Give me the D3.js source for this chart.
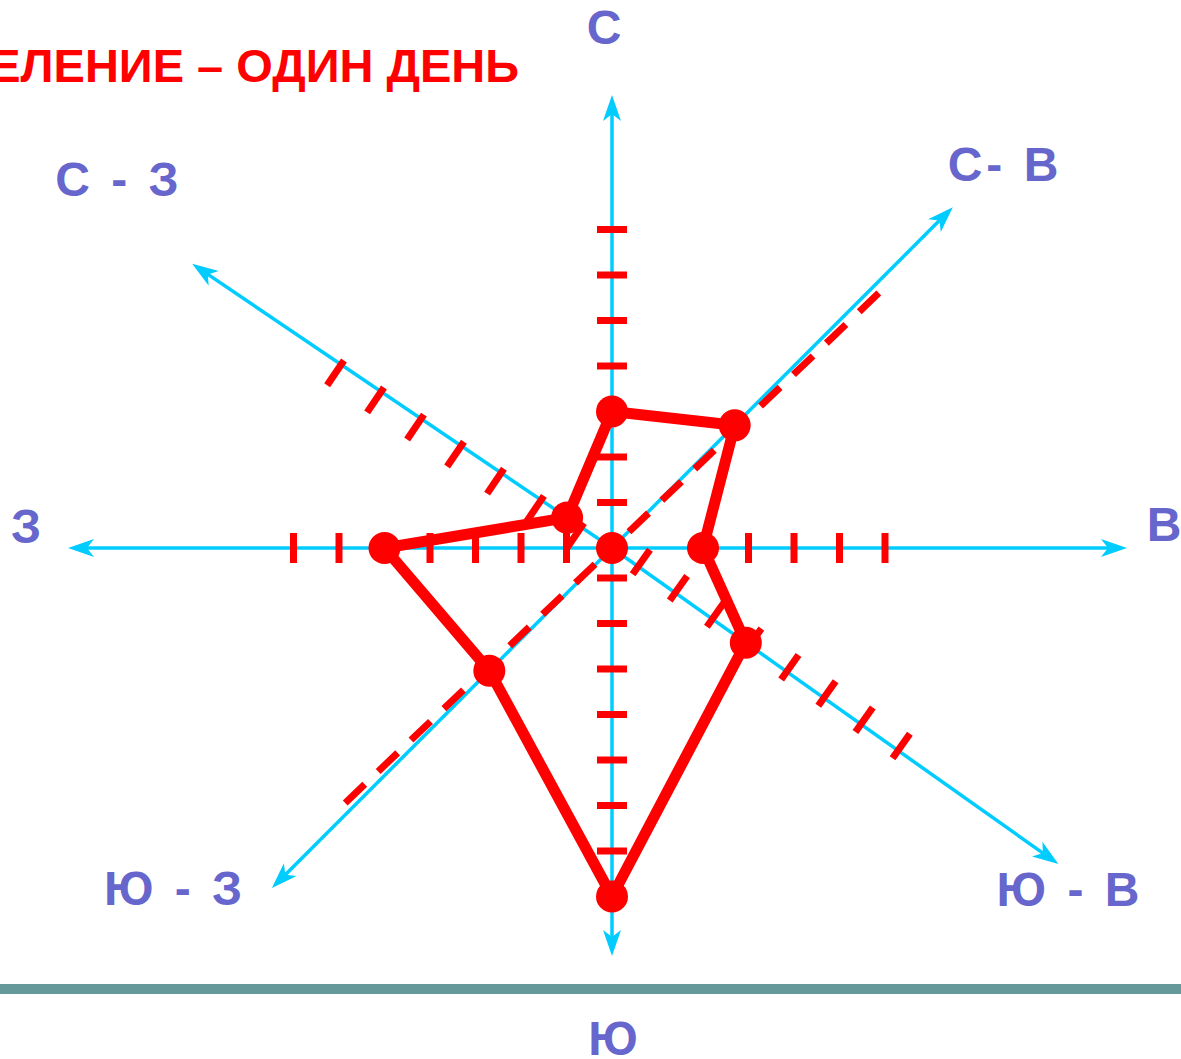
<!DOCTYPE html>
<html>
<head>
<meta charset="utf-8">
<script src="https://cdn.jsdelivr.net/npm/d3@7"></script>
<style>
  body { margin: 0; background: #fff; }
  svg { display: block; }
  text { font-family: "Liberation Sans", Arial, sans-serif; font-weight: bold; }
</style>
</head>
<body>
<svg></svg>
<script>
// rose of winds: one tick = one day
var title = "ДЕЛЕНИЕ – ОДИН ДЕНЬ";
// directions, clockwise from north
var directions = ["С", "С- В", "В", "Ю - В", "Ю", "Ю - З", "З", "С - З"];
// days of wind per direction
var days = [3, 4, 2, 3.9, 8, 4, 5, 1.35];
// which day-ticks are drawn on each ray
var tickDays = [
  [1, 2, 3, 4, 5, 6, 7],
  [1, 2, 3, 4, 5, 6, 7, 8],
  [2, 3, 4, 5, 6],
  [1, 2, 3, 4, 5, 6, 7, 8],
  [1, 2, 3, 4, 5, 6, 7, 8],
  [1, 2, 3, 4, 5, 6, 7, 8],
  [1, 2, 3, 4, 5, 6, 7],
  [1, 2, 3, 4, 5, 6, 7]
];

// drawing layout (hand drawn original, so each ray is a bit different)
var width = 1181, height = 1059;
var cx = 612, cy = 548;
var rays = [
  {angle: 90,     step: 45.5, zero: 0,     len: 453, tick: "cross", shift: 0,   tilt: 0,    label: [604, 44]},
  {angle: 45,     step: 45.5, zero: -8.5,  len: 482, tick: "dash",  shift: 0,   tilt: -1.3, label: [1005, 181]},
  {angle: 0,      step: 45.5, zero: 0,     len: 515, tick: "cross", shift: 0,   tilt: 0,    label: [1164, 541]},
  {angle: -35.3,  step: 45.5, zero: -13.5, len: 547, tick: "cross", shift: 5.5, tilt: 0,    label: [1070, 906]},
  {angle: -90,    step: 45.5, zero: -15.5, len: 408, tick: "cross", shift: 0,   tilt: 0,    label: [613, 1055]},
  {angle: -135,   step: 45.5, zero: -8.5,  len: 481, tick: "dash",  shift: 0,   tilt: -1.3, label: [175, 905]},
  {angle: 180,    step: 45.5, zero: 0,     len: 544, tick: "cross", shift: 0,   tilt: 0,    label: [26, 543]},
  {angle: 145.9,  step: 48.3, zero: -11,   len: 507, tick: "cross", shift: 10,  tilt: 0,    label: [119, 196]}
];

var axisColor = "#00ccff", red = "#ff0000", labelColor = "#6666cc";

// point at distance r along a ray, s to the left of it
function pos(a, r, s) {
  var t = a * Math.PI / 180;
  return [cx + r * Math.cos(t) - s * Math.sin(t), cy - r * Math.sin(t) - s * Math.cos(t)];
}

var svg = d3.select("svg")
  .attr("width", width)
  .attr("height", height);

// title, cut by the left edge like in the slide
svg.append("text")
  .attr("x", 519)
  .attr("y", 82)
  .attr("text-anchor", "end")
  .attr("font-size", 47)
  .attr("fill", red)
  .text(title);

// ground line
svg.append("line")
  .attr("x1", 0).attr("x2", width)
  .attr("y1", 989).attr("y2", 989)
  .attr("stroke", "#669999")
  .attr("stroke-width", 10);

// one scale per ray: days -> distance from the centre
rays.forEach(function(d) {
  d.r = d3.scaleLinear().domain([0, 1]).range([d.zero, d.zero + d.step]);
});

// axes with arrows
var axes = svg.append("g").attr("class", "axes");
rays.forEach(function(d) {
  var end = pos(d.angle, d.len - 19, 0);
  var tip = pos(d.angle, d.len, 0);
  axes.append("line")
    .attr("x1", cx).attr("y1", cy)
    .attr("x2", end[0]).attr("y2", end[1])
    .attr("stroke", axisColor)
    .attr("stroke-width", 3.5);
  axes.append("path")
    .attr("d", "M0,0L-26,-9L-19,0L-26,9Z")
    .attr("fill", axisColor)
    .attr("transform", "translate(" + tip[0] + "," + tip[1] + ") rotate(" + (-d.angle) + ")");
});

// day ticks
var ticks = svg.append("g").attr("class", "ticks");
rays.forEach(function(d, i) {
  tickDays[i].forEach(function(k) {
    var r = d.r(k), p1, p2;
    if (d.tick == "cross") {
      p1 = pos(d.angle, r, d.shift - 15);
      p2 = pos(d.angle, r, d.shift + 15);
    } else {
      p1 = pos(d.angle + d.tilt, r - 13.5, 0);
      p2 = pos(d.angle + d.tilt, r + 13.5, 0);
    }
    ticks.append("line")
      .attr("x1", p1[0]).attr("y1", p1[1])
      .attr("x2", p2[0]).attr("y2", p2[1])
      .attr("stroke", red)
      .attr("stroke-width", 7);
  });
});

// the rose itself
var points = rays.map(function(d, i) {
  return pos(d.angle, d.r(days[i]), 0);
});

var line = d3.line().curve(d3.curveLinearClosed);

svg.append("path")
  .attr("d", line(points))
  .attr("fill", "none")
  .attr("stroke", red)
  .attr("stroke-width", 11)
  .attr("stroke-linejoin", "round");

svg.selectAll("circle.day")
  .data(points.concat([[cx, cy]]))
  .enter().append("circle")
  .attr("class", "day")
  .attr("cx", function(d) { return d[0]; })
  .attr("cy", function(d) { return d[1]; })
  .attr("r", 16)
  .attr("fill", red);

// direction labels
svg.selectAll("text.dir")
  .data(rays)
  .enter().append("text")
  .attr("class", "dir")
  .attr("x", function(d) { return d.label[0]; })
  .attr("y", function(d) { return d.label[1]; })
  .attr("text-anchor", "middle")
  .attr("font-size", 48)
  .attr("letter-spacing", function(d, i) { return directions[i].length > 1 ? 4 : 0; })
  .attr("fill", labelColor)
  .style("white-space", "pre")
  .text(function(d, i) { return directions[i]; });
</script>
</body>
</html>
